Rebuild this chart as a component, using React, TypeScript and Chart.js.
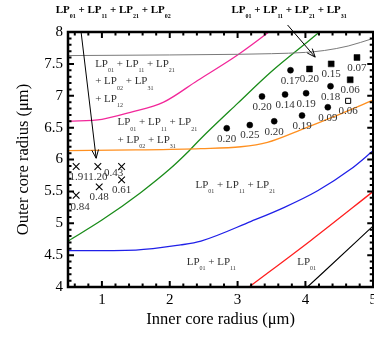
import React, { useEffect, useRef } from "react";
import { Chart, registerables } from "chart.js";

Chart.register(...registerables);

// ---------------- data ----------------
const xTickValues = [1, 2, 3, 4, 5];
const yTickValues = [4, 4.5, 5, 5.5, 6, 6.5, 7, 7.5, 8];

const grayX = [0.5, 2.0, 3.0, 3.5, 4.0, 4.28, 4.63, 5.0];
const grayY = [7.63, 7.64, 7.65, 7.66, 7.68, 7.71, 7.78, 7.9];

const magentaX = [0.5, 1.0, 1.42, 1.91, 2.41, 3.0, 3.46, 3.6];
const magentaY = [6.6, 6.63, 6.74, 6.9, 7.24, 7.64, 8.0, 8.12];

const orangeX = [0.5, 1.5, 2.46, 3.05, 3.44, 3.94, 4.53, 5.0];
const orangeY = [6.14, 6.15, 6.17, 6.2, 6.27, 6.47, 6.72, 6.93];

const greenX = [0.5, 1.0, 1.57, 2.0, 2.26, 2.46, 3.0, 3.5, 4.06, 4.3];
const greenY = [4.72, 5.05, 5.48, 5.85, 6.11, 6.33, 6.88, 7.38, 7.87, 8.08];

const blueX = [0.5, 1.5, 2.16, 2.46, 3.2, 3.69, 4.18, 4.67, 5.0];
const blueY = [4.57, 4.58, 4.66, 4.72, 5.03, 5.25, 5.51, 5.85, 6.14];

const redX = [3.17, 4.08, 5.0];
const redY = [4.0, 4.73, 5.5];

const blackX = [4.03, 4.77, 5.0];
const blackY = [4.0, 4.73, 4.96];

const circleX = [2.84, 3.18, 3.54, 3.95, 3.36, 3.7, 4.01, 3.78, 4.37, 4.33];
const circleY = [6.49, 6.54, 6.6, 6.69, 6.99, 7.02, 7.04, 7.4, 7.15, 6.82];
const circleLabels = ["0.20", "0.25", "0.20", "0.19", "0.20", "0.14", "0.19", "0.17", "0.18", "0.09"];

const squareX = [4.06, 4.38, 4.76, 4.66];
const squareY = [7.42, 7.5, 7.6, 7.25];
const squareLabels = ["0.20", "0.15", "0.07", "0.06"];

const openSquareX = [4.63];
const openSquareY = [6.92];
const openSquareLabels = ["0.06"];

const crossX = [0.62, 0.94, 1.29, 1.29, 0.96, 0.62];
const crossY = [5.89, 5.89, 5.89, 5.68, 5.57, 5.44];
const crossLabels = ["1.91", "1.20", "0.43", "0.61", "0.48", "0.84"];

// ---------------- helpers ----------------
const FAM = '"Liberation Serif", "Times New Roman", serif';
const zip = (xs: number[], ys: number[]) => xs.map((x, i) => ({ x, y: ys[i] }));

function drawRich(
  ctx: CanvasRenderingContext2D,
  text: string,
  x: number,
  y: number,
  size: number,
  subSize: number,
  subDrop: number,
  bold: boolean,
  align: "left" | "center"
) {
  const parts = text.split(/_(\d+)/);
  const fMain = `${bold ? "bold " : ""}${size}px ${FAM}`;
  const fSub = `${bold ? "bold " : ""}${subSize}px ${FAM}`;
  let w = 0;
  parts.forEach((p, i) => {
    ctx.font = i % 2 ? fSub : fMain;
    w += ctx.measureText(p).width;
  });
  let cx = align === "center" ? x - w / 2 : x;
  ctx.textAlign = "left";
  ctx.textBaseline = "alphabetic";
  parts.forEach((p, i) => {
    ctx.font = i % 2 ? fSub : fMain;
    ctx.fillText(p, cx, i % 2 ? y + subDrop : y);
    cx += ctx.measureText(p).width;
  });
}

function arrow(ctx: CanvasRenderingContext2D, x1: number, y1: number, x2: number, y2: number) {
  const ang = Math.atan2(y2 - y1, x2 - x1);
  const L = 9;
  const spread = 0.38;
  ctx.beginPath();
  ctx.moveTo(x1, y1);
  ctx.lineTo(x2, y2);
  ctx.moveTo(x2 - L * Math.cos(ang - spread), y2 - L * Math.sin(ang - spread));
  ctx.lineTo(x2, y2);
  ctx.lineTo(x2 - L * Math.cos(ang + spread), y2 - L * Math.sin(ang + spread));
  ctx.stroke();
}

const innerNotes = [
  { x: 0.9, y: 7.454, lines: ["LP_01 + LP_11 + LP_21", "+ LP_02 + LP_31", "+ LP_12"] },
  { x: 1.23, y: 6.535, lines: ["LP_01 + LP_11 + LP_21", "+ LP_02 + LP_31"] },
  { x: 2.38, y: 5.555, lines: ["LP_01 + LP_11 + LP_21"] },
  { x: 2.25, y: 4.346, lines: ["LP_01 + LP_11"] },
  { x: 3.88, y: 4.346, lines: ["LP_01"] },
];

const topNotes = [
  { x: 1.167, y: 8.294, text: "LP_01 + LP_11 + LP_21 + LP_02" },
  { x: 3.76, y: 8.294, text: "LP_01 + LP_11 + LP_21 + LP_31" },
];

const arrows = [
  { x1: 0.693, y1: 8.0, x2: 0.915, y2: 6.02 },
  { x1: 3.737, y1: 8.11, x2: 4.144, y2: 7.606 },
];

const labelShift: Record<string, [number, number]> = {
  "cross-0": [3, 0],
  "cross-2": [-8, -4],
  "cross-5": [4, 1],
};

const decorPlugin = {
  id: "decor",
  afterDatasetsDraw(chart: any) {
    const { ctx, chartArea: a, scales } = chart;
    const xs = scales.x;
    const ys = scales.y;
    ctx.save();

    // frame
    ctx.strokeStyle = "#000";
    ctx.lineWidth = 2.5;
    ctx.strokeRect(a.left, a.top, a.right - a.left, a.bottom - a.top);

    // inward ticks on all sides
    ctx.lineWidth = 2;
    ctx.beginPath();
    for (let k = 3; k <= 25; k++) {
      const v = k * 0.2;
      const major = k % 5 === 0;
      const len = major ? 6 : 3.5;
      const px = xs.getPixelForValue(v);
      ctx.moveTo(px, a.bottom);
      ctx.lineTo(px, a.bottom - len);
      ctx.moveTo(px, a.top);
      ctx.lineTo(px, a.top + len);
    }
    for (let k = 40; k <= 80; k++) {
      const v = k * 0.1;
      const major = k % 5 === 0;
      const len = major ? 6 : 3.5;
      const py = ys.getPixelForValue(v);
      ctx.moveTo(a.left, py);
      ctx.lineTo(a.left + len, py);
      ctx.moveTo(a.right, py);
      ctx.lineTo(a.right - len, py);
    }
    ctx.stroke();

    // point labels
    ctx.fillStyle = "#333";
    ctx.font = `11px ${FAM}`;
    ctx.textAlign = "center";
    ctx.textBaseline = "middle";
    chart.data.datasets.forEach((ds: any, di: number) => {
      if (!ds.pointLabels) return;
      const meta = chart.getDatasetMeta(di);
      meta.data.forEach((el: any, i: number) => {
        const sh = labelShift[`${ds.key}-${i}`] || [0, 0];
        ctx.fillText(ds.pointLabels[i], el.x + sh[0], el.y + 10.5 + sh[1]);
      });
    });

    // region labels
    ctx.fillStyle = "#333";
    innerNotes.forEach((n) => {
      const px = xs.getPixelForValue(n.x);
      const py = ys.getPixelForValue(n.y);
      n.lines.forEach((ln, i) => drawRich(ctx, ln, px, py + i * 17.5, 11, 6, 5.5, false, "left"));
    });

    // top labels
    ctx.fillStyle = "#000";
    topNotes.forEach((n) => {
      drawRich(ctx, n.text, xs.getPixelForValue(n.x), ys.getPixelForValue(n.y), 11, 6, 5, true, "center");
    });

    // arrows
    ctx.strokeStyle = "#000";
    ctx.lineWidth = 1;
    arrows.forEach((ar) =>
      arrow(
        ctx,
        xs.getPixelForValue(ar.x1),
        ys.getPixelForValue(ar.y1),
        xs.getPixelForValue(ar.x2),
        ys.getPixelForValue(ar.y2)
      )
    );

    ctx.restore();
  },
};

const curve = (label: string, xs: number[], ys: number[], color: string, width = 1.3) => ({
  label,
  data: zip(xs, ys),
  borderColor: color,
  borderWidth: width,
  pointRadius: 0,
  fill: false,
  cubicInterpolationMode: "monotone" as const,
  showLine: true,
});

const CANVAS_W = 381;
const CANVAS_H = 338;

export default function App() {
  const ref = useRef<HTMLCanvasElement | null>(null);

  useEffect(() => {
    if (!ref.current) return;
    const chart = new Chart(ref.current, {
      type: "line",
      data: {
        datasets: [
          curve("gray", grayX, grayY, "#7a7a7a", 1),
          curve("magenta", magentaX, magentaY, "#f2289a"),
          curve("orange", orangeX, orangeY, "#ff9020"),
          curve("green", greenX, greenY, "#1a8c1a"),
          curve("blue", blueX, blueY, "#2020e8"),
          curve("red", redX, redY, "#ff2020"),
          curve("black", blackX, blackY, "#000000", 1.1),
          {
            label: "circles",
            key: "circle",
            data: zip(circleX, circleY),
            showLine: false,
            pointStyle: "circle",
            pointRadius: 3,
            pointBackgroundColor: "#000",
            pointBorderColor: "#000",
            pointBorderWidth: 0.5,
            pointLabels: circleLabels,
          } as any,
          {
            label: "squares",
            key: "square",
            data: zip(squareX, squareY),
            showLine: false,
            pointStyle: "rect",
            pointRadius: 4.2,
            pointBackgroundColor: "#000",
            pointBorderColor: "#000",
            pointBorderWidth: 0.5,
            pointLabels: squareLabels,
          } as any,
          {
            label: "open squares",
            key: "open",
            data: zip(openSquareX, openSquareY),
            showLine: false,
            pointStyle: "rect",
            pointRadius: 3.6,
            pointBackgroundColor: "#fff",
            pointBorderColor: "#000",
            pointBorderWidth: 1,
            pointLabels: openSquareLabels,
          } as any,
          {
            label: "crosses",
            key: "cross",
            data: zip(crossX, crossY),
            showLine: false,
            pointStyle: "crossRot",
            pointRadius: 4.7,
            pointBorderColor: "#000",
            pointBorderWidth: 1.1,
            pointLabels: crossLabels,
          } as any,
        ],
      },
      options: {
        animation: false,
        responsive: false,
        maintainAspectRatio: false,
        layout: { padding: { left: 0, right: 2, top: 32, bottom: 0 }, autoPadding: false },
        plugins: { legend: { display: false }, tooltip: { enabled: false } },
        scales: {
          x: {
            type: "linear",
            min: 0.5,
            max: 5,
            grid: { display: false, drawTicks: false },
            border: { display: false },
            afterBuildTicks: (s: any) => {
              s.ticks = xTickValues.map((v) => ({ value: v }));
            },
            afterFit: (s: any) => {
              s.height = 51;
            },
            ticks: {
              font: { family: FAM, size: 15 },
              color: "#000",
              padding: 4,
              maxRotation: 0,
              autoSkip: false,
              callback: (v: any) => String(v),
            },
            title: {
              display: true,
              text: "Inner core radius (μm)",
              font: { family: FAM, size: 16.5 },
              color: "#000",
              padding: { top: 0, bottom: 8 },
            },
          },
          y: {
            type: "linear",
            min: 4,
            max: 8,
            grid: { display: false, drawTicks: false },
            border: { display: false },
            afterBuildTicks: (s: any) => {
              s.ticks = yTickValues.map((v) => ({ value: v }));
            },
            afterFit: (s: any) => {
              s.width = 68;
            },
            ticks: {
              font: { family: FAM, size: 15 },
              color: "#000",
              padding: 5,
              autoSkip: false,
              callback: (v: any) => String(v),
            },
            title: {
              display: true,
              text: "Outer core radius (μm)",
              font: { family: FAM, size: 16.5 },
              color: "#000",
              padding: { top: 14, bottom: 0 },
            },
          },
        },
      } as any,
      plugins: [decorPlugin],
    });
    return () => chart.destroy();
  }, []);

  return (
    <div
      style={{
        position: "absolute",
        left: 0,
        top: 0,
        width: 374,
        height: CANVAS_H,
        overflow: "hidden",
        background: "#fff",
      }}
    >
      <canvas ref={ref} width={CANVAS_W} height={CANVAS_H} style={{ display: "block" }} />
    </div>
  );
}
